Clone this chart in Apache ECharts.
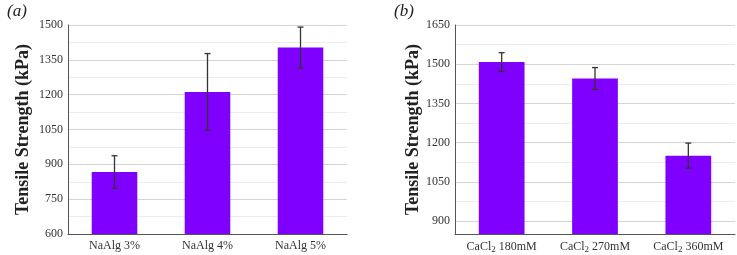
<!DOCTYPE html>
<html>
<head>
<meta charset="utf-8">
<script src="https://cdn.jsdelivr.net/npm/echarts@6/dist/echarts.min.js"></script>
<style>
  html, body { margin: 0; padding: 0; background: #fff; }
  #chart { width: 737px; height: 255px; }
</style>
</head>
<body>
<div id="chart"></div>
<script>
  // panel (a)
  var catsA = ['NaAlg 3%', 'NaAlg 4%', 'NaAlg 5%'];
  var valsA = [867, 1212, 1403];
  var errA = [70, 165, 88];
  var minorA = [675, 825, 975, 1125, 1275, 1425];

  // panel (b)
  var catsB = ['CaCl2 180mM', 'CaCl2 270mM', 'CaCl2 360mM'];
  var valsB = [1508, 1445, 1150];
  var errB = [36, 42, 48];
  var ticksB = [900, 1050, 1200, 1350, 1500, 1650];
  var minorB = [975, 1125, 1275, 1425, 1575];

  var barColor = '#8000ff';
  var serif = '"Liberation Serif", "DejaVu Serif", serif';

  function errorSeries(xi, yi, vals, errs) {
    return {
      type: 'custom',
      xAxisIndex: xi,
      yAxisIndex: yi,
      z: 10,
      data: vals.map(function (v, i) { return [i, v - errs[i], v + errs[i]]; }),
      renderItem: function (params, api) {
        var lo = api.coord([api.value(0), api.value(1)]);
        var hi = api.coord([api.value(0), api.value(2)]);
        var w = 3;
        var st = { stroke: '#333', lineWidth: 1.3 };
        return {
          type: 'group',
          children: [
            { type: 'line', shape: { x1: hi[0], y1: hi[1], x2: lo[0], y2: lo[1] }, style: st },
            { type: 'line', shape: { x1: hi[0] - w, y1: hi[1], x2: hi[0] + w, y2: hi[1] }, style: st },
            { type: 'line', shape: { x1: lo[0] - w, y1: lo[1], x2: lo[0] + w, y2: lo[1] }, style: st }
          ]
        };
      }
    };
  }

  // faint in-between gridlines, drawn under the bars
  function minorGrid(xi, yi, vals) {
    return {
      type: 'line',
      xAxisIndex: xi,
      yAxisIndex: yi,
      z: 0,
      data: [],
      markLine: {
        z: 0,
        silent: true,
        symbol: 'none',
        label: { show: false },
        lineStyle: { color: '#ececec', type: 'solid', width: 1 },
        data: vals.map(function (v) { return { yAxis: v }; })
      }
    };
  }

  var chart = echarts.init(document.getElementById('chart'));

  var xBase = {
    type: 'category',
    axisLine: { lineStyle: { color: '#555', width: 1.2 } },
    axisTick: { show: false },
    axisLabel: {
      interval: 0,
      fontFamily: serif, fontSize: 12, color: '#333', margin: 6,
      rich: { sub: { fontFamily: serif, fontSize: 9, color: '#333', padding: [5, 0, 0, 0] } }
    }
  };
  var yBase = {
    type: 'value',
    name: 'Tensile Strength (kPa)',
    nameLocation: 'middle',
    nameTextStyle: { fontFamily: serif, fontSize: 18, fontWeight: 'bold', color: '#222' },
    axisLine: { show: true, lineStyle: { color: '#555', width: 1 } },
    axisTick: { show: false },
    axisLabel: { fontFamily: serif, fontSize: 12, color: '#333', margin: 5, formatter: function (v) { return String(v); } },
    splitLine: { lineStyle: { color: '#d4d4d4' } }
  };

  var option = {
    animation: false,
    title: [
      { text: '(a)', left: 2, top: -2, textStyle: { fontFamily: serif, fontStyle: 'italic', fontWeight: 'normal', fontSize: 17, color: '#222' } },
      { text: '(b)', left: 389, top: -2, textStyle: { fontFamily: serif, fontStyle: 'italic', fontWeight: 'normal', fontSize: 17, color: '#222' } }
    ],
    grid: [
      { left: 68, right: 390, top: 25, bottom: 21 },
      { left: 455, right: 2, top: 25, bottom: 21 }
    ],
    xAxis: [
      Object.assign({}, xBase, { gridIndex: 0, data: catsA }),
      Object.assign({}, xBase, {
        gridIndex: 1, data: catsB,
        axisLabel: Object.assign({}, xBase.axisLabel, {
          formatter: function (v) { return v.replace('CaCl2', 'CaCl{sub|2}'); }
        })
      })
    ],
    yAxis: [
      Object.assign({}, yBase, { gridIndex: 0, min: 600, max: 1500, interval: 150, nameGap: 36 }),
      Object.assign({}, yBase, {
        gridIndex: 1, min: 850, max: 1650, nameGap: 30,
        axisTick: { show: false, customValues: ticksB },
        axisLabel: Object.assign({}, yBase.axisLabel, { customValues: ticksB })
      })
    ],
    series: [
      minorGrid(0, 0, minorA),
      { type: 'bar', xAxisIndex: 0, yAxisIndex: 0, z: 2, data: valsA, barWidth: '49%', itemStyle: { color: barColor } },
      errorSeries(0, 0, valsA, errA),
      minorGrid(1, 1, minorB),
      { type: 'bar', xAxisIndex: 1, yAxisIndex: 1, z: 2, data: valsB, barWidth: '49%', itemStyle: { color: barColor } },
      errorSeries(1, 1, valsB, errB)
    ]
  };

  chart.setOption(option);
</script>
</body>
</html>
